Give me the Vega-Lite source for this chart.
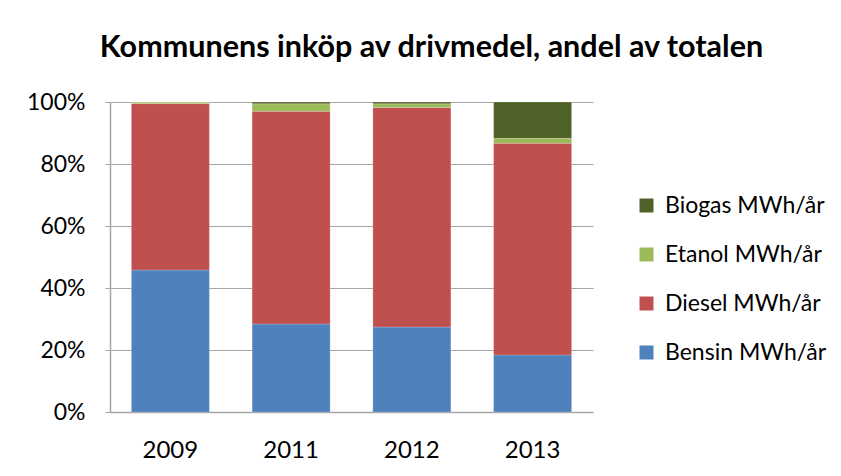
{
  "$schema": "https://vega.github.io/schema/vega-lite/v6.json",
  "width": 483,
  "height": 310,
  "autosize": "none",
  "padding": {"left": 110, "top": 102, "right": 248, "bottom": 64},
  "background": "white",
  "title": {
    "text": "Kommunens inköp av drivmedel, andel av totalen",
    "font": "Lato",
    "fontSize": 30.5,
    "fontWeight": "bold",
    "color": "#000000",
    "anchor": "middle",
    "dx": 80,
    "offset": 28
  },
  "data": {
    "values": [
      {"year": "2009", "type": "Bensin MWh/år", "share": 45.8},
      {"year": "2009", "type": "Diesel MWh/år", "share": 53.7},
      {"year": "2009", "type": "Etanol MWh/år", "share": 0.5},
      {"year": "2009", "type": "Biogas MWh/år", "share": 0.0},
      {"year": "2011", "type": "Bensin MWh/år", "share": 28.4},
      {"year": "2011", "type": "Diesel MWh/år", "share": 68.6},
      {"year": "2011", "type": "Etanol MWh/år", "share": 2.4},
      {"year": "2011", "type": "Biogas MWh/år", "share": 0.6},
      {"year": "2012", "type": "Bensin MWh/år", "share": 27.4},
      {"year": "2012", "type": "Diesel MWh/år", "share": 70.8},
      {"year": "2012", "type": "Etanol MWh/år", "share": 1.2},
      {"year": "2012", "type": "Biogas MWh/år", "share": 0.6},
      {"year": "2013", "type": "Bensin MWh/år", "share": 18.4},
      {"year": "2013", "type": "Diesel MWh/år", "share": 68.3},
      {"year": "2013", "type": "Etanol MWh/år", "share": 1.6},
      {"year": "2013", "type": "Biogas MWh/år", "share": 11.7}
    ]
  },
  "transform": [
    {"calculate": "indexof(['Bensin MWh/år','Diesel MWh/år','Etanol MWh/år','Biogas MWh/år'], datum.type)", "as": "stackOrder"}
  ],
  "mark": {"type": "bar", "stroke": "white", "strokeWidth": 0.5, "strokeOpacity": 0.4},
  "encoding": {
    "x": {
      "field": "year",
      "type": "nominal",
      "scale": {"paddingInner": 0.354, "paddingOuter": 0.177},
      "axis": {
        "title": null,
        "labelAngle": 0,
        "labelFont": "Lato",
        "labelFontSize": 24,
        "labelColor": "#000000",
        "labelPadding": 26,
        "ticks": false,
        "domainColor": "#a6a6a6",
        "domainWidth": 1.5
      }
    },
    "y": {
      "field": "share",
      "type": "quantitative",
      "stack": "normalize",
      "scale": {"domain": [0, 1]},
      "axis": {
        "title": null,
        "format": ".0%",
        "values": [0, 0.2, 0.4, 0.6, 0.8, 1],
        "labelFont": "Lato",
        "labelFontSize": 23,
        "labelColor": "#000000",
        "labelPadding": 20,
        "tickSize": 5,
        "tickColor": "#a6a6a6",
        "domainColor": "#a6a6a6",
        "domainWidth": 1.5,
        "grid": true,
        "gridColor": "#a6a6a6",
        "gridWidth": 1.2
      }
    },
    "color": {
      "field": "type",
      "type": "nominal",
      "scale": {
        "domain": ["Biogas MWh/år", "Etanol MWh/år", "Diesel MWh/år", "Bensin MWh/år"],
        "range": ["#4F6228", "#9BBB59", "#C0504D", "#4F81BD"]
      },
      "legend": {
        "title": null,
        "orient": "none",
        "legendX": 525,
        "legendY": 92,
        "symbolType": "square",
        "symbolSize": 196,
        "symbolStrokeWidth": 0,
        "labelFont": "Lato",
        "labelFontSize": 23,
        "labelColor": "#000000",
        "labelLimit": 400,
        "rowPadding": 25,
        "labelOffset": 7
      }
    },
    "order": {"field": "stackOrder", "type": "quantitative"}
  },
  "config": {"view": {"stroke": null}}
}
